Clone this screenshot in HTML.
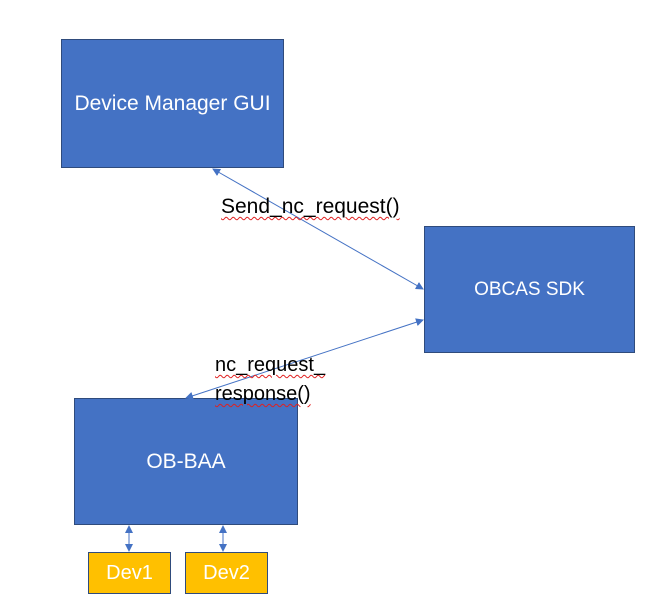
<!DOCTYPE html>
<html><head><meta charset="utf-8"><style>
body{margin:0;width:656px;height:609px;background:#fff;overflow:hidden;position:relative;font-family:"Liberation Sans",sans-serif}
.b{position:absolute;box-sizing:border-box;background:#4472c4;border:1.5px solid #2f4b7c;color:#fff;display:flex;align-items:center;justify-content:center;font-size:20px}
.d{background:#ffc000;border-color:#2f4b7c;font-size:20px}
.t{position:absolute;font-size:20px;color:#000;line-height:29px;text-decoration:underline wavy #e02020 1px;text-underline-offset:3px}
</style></head><body>
<div class="b" style="left:61px;top:39px;width:223px;height:129px;font-size:21px">Device Manager GUI</div>
<div class="b" style="left:424px;top:226px;width:211px;height:127px;font-size:19px">OBCAS SDK</div>
<div class="b" style="left:74px;top:398px;width:224px;height:127px;font-size:21px">OB-BAA</div>
<div class="b d" style="left:88px;top:552px;width:83px;height:42px">Dev1</div>
<div class="b d" style="left:185px;top:552px;width:83px;height:42px">Dev2</div>
<svg width="656" height="609" style="position:absolute;left:0;top:0">
<defs><marker id="a" markerWidth="8" markerHeight="8" refX="7" refY="4" orient="auto-start-reverse" markerUnits="userSpaceOnUse"><path d="M0,0L8,4L0,8z" fill="#4472c4"/></marker></defs>
<g stroke="#4472c4" stroke-width="1" fill="none">
<line x1="213" y1="169" x2="423" y2="289" marker-start="url(#a)" marker-end="url(#a)"/>
<line x1="186" y1="398" x2="423" y2="320" marker-start="url(#a)" marker-end="url(#a)"/>
<line x1="129" y1="526" x2="129" y2="551" marker-start="url(#a)" marker-end="url(#a)"/>
<line x1="223" y1="526" x2="223" y2="551" marker-start="url(#a)" marker-end="url(#a)"/>
</g></svg>
<div class="t" style="left:221px;top:192px;font-size:21px">Send_nc_request()</div>
<div class="t" style="left:215px;top:351px">nc_request_<br>response()</div>
</body></html>
